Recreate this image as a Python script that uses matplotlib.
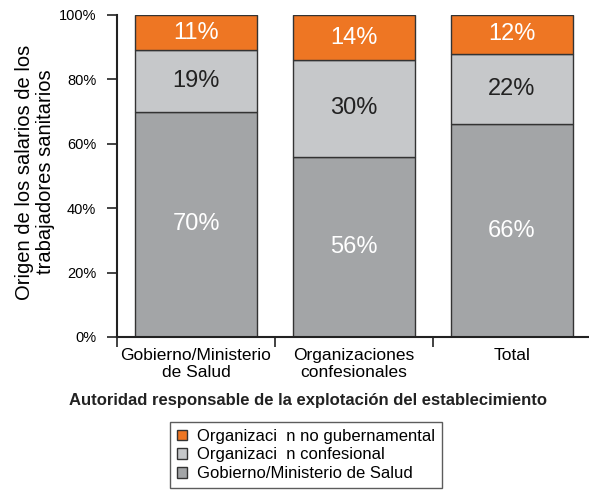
import numpy as np
import matplotlib
matplotlib.use("Agg")
import matplotlib.pyplot as plt

plt.rcParams['font.family'] = ['Liberation Sans', 'DejaVu Sans']

categorias = ["Gobierno/Ministerio\nde Salud", "Organizaciones\nconfesionales", "Total"]
gobierno = [70, 56, 66]
confesional = [19, 30, 22]
ong = [11, 14, 12]
series_nombres = ["Gobierno/Ministerio de Salud", "Organizaci  n confesional",
                  "Organizaci  n no gubernamental"]
yticks = [0, 20, 40, 60, 80, 100]

colores = ["#A3A5A7", "#C6C8CA", "#EE7623"]
txt_col = ["white", "#222222", "white"]

fig = plt.figure(figsize=(5.89, 4.91), dpi=100)
ax = fig.add_axes([117/589, 1-337/491, 474/589, 322/491])

x = np.arange(len(categorias))
base = np.zeros(len(categorias))
handles = []
for vals, col, tc, nom in zip([gobierno, confesional, ong], colores, txt_col, series_nombres):
    b = ax.bar(x, vals, width=0.77, bottom=base, color=col, edgecolor="#333333", lw=1.0, label=nom)
    handles.append(b)
    for xi, v, b0 in zip(x, vals, base):
        ax.text(xi, b0 + v/2, f"{v}%", ha="center", va="center", fontsize=17, color=tc)
    base = base + np.array(vals)

ax.set_xlim(-0.5, 2.5)
ax.set_ylim(0, 100)
ax.set_yticks(yticks)
ax.set_yticklabels([f"{t}%" for t in yticks], fontsize=10.5)
ax.set_xticks([-0.5, 0.5, 1.5, 2.5])
ax.set_xticklabels([])
ax.set_xticks(x, minor=True)
ax.set_xticklabels(categorias, minor=True, fontsize=12.5, linespacing=1.15)
ax.tick_params(axis="x", which="minor", length=0, pad=8)
ax.tick_params(axis="both", which="major", length=7, width=1.2, direction="out", color="#222222")
ax.tick_params(axis="y", pad=8)
for s in ["top", "right"]:
    ax.spines[s].set_visible(False)
for s in ["left", "bottom"]:
    ax.spines[s].set_linewidth(1.5)
    ax.spines[s].set_color("#222222")

fig.text(35/589, 1-172/491, "Origen de los salarios de los\ntrabajadores sanitarios",
         rotation=90, ha="center", va="center", multialignment="center",
         fontsize=14.5, linespacing=1.15)
fig.text(308/589, 1-400/491, "Autoridad responsable de la explotación del establecimiento",
         ha="center", va="center", fontsize=12, fontweight="bold", color="#222222")

leg = fig.legend(handles[::-1], series_nombres[::-1], loc="center", bbox_to_anchor=(306/589, 1-455/491),
                 fontsize=12, frameon=True, fancybox=False, edgecolor="#333333",
                 handlelength=0.6, handleheight=0.6, handletextpad=0.6, labelspacing=0.22,
                 borderpad=0.4)
leg.get_frame().set_linewidth(1.0)

fig.savefig("out.png", dpi=100)
